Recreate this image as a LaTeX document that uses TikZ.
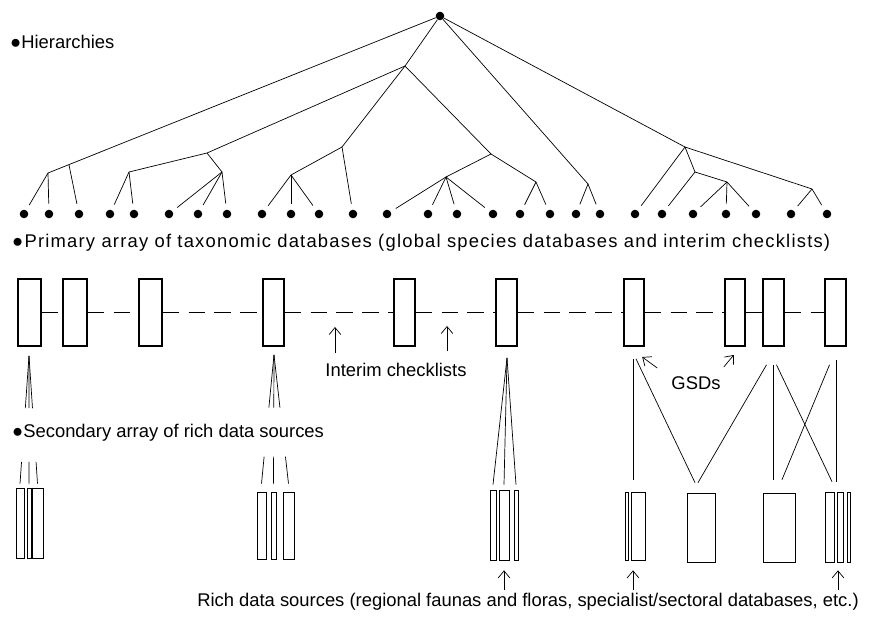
\documentclass[tikz,border=0pt]{standalone}
\usepackage{fontspec}
\setmainfont{Liberation Sans}
\usetikzlibrary{arrows.meta,calc,fit}

\begin{document}
\begin{tikzpicture}[x=0.03cm,y=-0.03cm,
  dot/.style={circle,fill,inner sep=0pt,minimum size=7.3pt},
  twig/.style={line width=0.6pt},
  leaf/.style={twig,shorten >=5pt},
  pbox/.style={draw,line width=1.4pt,inner sep=0pt},
  sbox/.style={draw,line width=0.6pt,inner sep=0pt},
  link/.style={line width=0.6pt},
  gap/.style={link,dash pattern=on 14pt off 8pt},
  ptr/.style={line width=0.6pt,-{Straight Barb[length=6pt,width=10pt]}},
  lbl/.style={font=\fontsize{15.7}{19}\selectfont,inner sep=0pt}]
  \useasboundingbox (0,0) rectangle (869,618);

  \node[lbl,anchor=west] (hier) at (10,42) {●Hierarchies};
  \node[lbl,anchor=west] (prim) at (12,243) {\addfontfeatures{LetterSpace=6.6}●Primary array of taxonomic databases (global species databases and interim checklists)};
  \node[lbl,anchor=west] (sec) at (12,433) {●Secondary array of rich data sources};

  \node[dot] (r) at (440,16) {};
  \foreach \i/\x in {1/24,2/49,3/79,4/110,5/134,6/169,7/198,8/227,9/262,10/291,11/319,12/353,
    13/387,14/428,15/457,16/493,17/520,18/550,19/576,20/600,21/635,22/662,23/693,24/726,
    25/756,26/791,27/827}
    \node[dot] (d\i) at (\x,214) {};
  \coordinate (a) at (48,173);
  \coordinate (aa) at (69,165);
  \coordinate (b) at (405,66);
  \coordinate (c) at (207,153);
  \coordinate (d) at (129,172);
  \coordinate (e) at (222,172);
  \coordinate (f) at (342,147);
  \coordinate (g) at (291,175);
  \coordinate (h) at (491,154);
  \coordinate (i) at (446,177);
  \coordinate (j) at (536,182);
  \coordinate (k) at (588,184);
  \coordinate (l) at (685,147);
  \coordinate (m) at (695,172);
  \coordinate (n) at (727,182);
  \coordinate (o) at (812,189);
  \foreach \u/\v in {r/a,r/b,b/c,c/d,c/e,b/f,f/g,b/h,h/i,h/j,r/k,r/l,l/m,m/n,l/o}
    \draw[twig] (\u) -- (\v);
  \foreach \u/\v in {a/1,a/2,aa/3,d/4,d/5,e/6,e/7,e/8,g/9,g/10,g/11,f/12,i/13,i/14,i/15,i/16,
    j/17,j/18,k/19,k/20,l/21,m/22,n/23,n/24,n/25,o/26,o/27}
    \draw[leaf] (\u) -- (d\v);

  \foreach \nm/\xa/\xb in {p1/18/41,p2/63/87,p3/139/162,p4/263/284,p5/394/415,p6/496/517,
    p7/624/644,p8/725/745,p9/763/784,p10/825/846}
    \node[pbox,fit={(\xa,279) (\xb,346)}] (\nm) {};
  \foreach \u/\v in {p1/p2,p2/p3,p3/p4,p4/p5,p5/p6,p6/p7,p7/p8,p9/p10}
    \draw[gap] (\u) -- (\v);
  \draw[link] (p8) -- (p9);

  \node[lbl] (ic) at (396,370) {Interim checklists};
  \draw[ptr] ($(ic.north)+(-61,-10)$) -- ++(0,-26);
  \draw[ptr] ($(ic.north)+(51,-12)$) -- ++(0,-25);
  \node[lbl] (gsd) at (696,383) {GSDs};
  \draw[ptr] ($(gsd.west)+(-14,-15)$) -- ++(-15,-11);
  \draw[ptr] ($(gsd.east)+(3,-16)$) -- ++(10,-12);

  \foreach \nm/\xa/\xb/\ya/\yb in {s1a/16/24/488/558,s1b/27/31/488/558,s1c/32/43/488/558,
    s2a/257/266/492/559,s2b/271/276/492/559,s2c/283/294/492/559,
    s3a/490/496/490/560,s3b/499/509/490/560,s3c/514/518/490/560,
    s4a/625/628/492/560,s4b/631/645/492/560,s4c/687/715/493/562,
    s5a/763/795/493/562,s5b/825/834/492/562,s5c/837/843/492/562,s5d/847/850/492/562}
    \node[sbox,fit={(\xa,\ya) (\xb,\yb)}] (\nm) {};

  \coordinate (u1) at ($(p1.south)+(-0.5,9)$);
  \foreach \t in {s1a,s1b,s1c} {
    \coordinate (v) at ($(\t.north)+(0,-4)$);
    \draw[link] (u1) -- ($(u1)!.41!(v)$) ($(u1)!.83!(v)$) -- (v);
  }
  \coordinate (u4) at ($(p4.south)+(0.5,8)$);
  \foreach \t in {s2a,s2b,s2c} {
    \coordinate (v) at ($(\t.north)+(0,-8)$);
    \draw[link] (u4) -- ($(u4)!.41!(v)$) ($(u4)!.79!(v)$) -- (v);
  }
  \coordinate (u6) at ($(p6.south)+(0.5,11)$);
  \foreach \t in {s3a,s3b,s3c}
    \draw[link] (u6) -- ($(\t.north)+(0,-5)$);

  \draw[link] ($(p7.south)+(-1,12)$) -- ($(s4b.north)+(-5,-12)$);
  \draw[link] ($(p7.south)+(2,12)$) -- ($(s4c.north)+(-6,-10)$);
  \draw[link] ($(p9.south)+(-7,18)$) -- ($(s4c.north)+(-3,-10)$);
  \draw[link] ($(p9.south)+(0,18)$) -- ($(s5a.north)+(-5.5,-13)$);
  \draw[link] ($(p9.south)+(3,18)$) -- ($(s5b.north)+(2.5,-10)$);
  \draw[link] ($(p10.south)+(-6,18)$) -- ($(s5a.north)+(3,-13)$);
  \draw[link] ($(p10.south)+(0.5,13)$) -- ($(s5c.north)+(-4,-10)$);

  \node[lbl] (rich) at (528,602) {Rich data sources (regional faunas and floras, specialist/sectoral databases, etc.)};
  \draw[ptr] ($(s3b.south)+(0,30)$) -- ($(s3b.south)+(0,10)$);
  \draw[ptr] ($(s4b.south)+(-5,30)$) -- ($(s4b.south)+(-5,10)$);
  \draw[ptr] ($(s5c.south)+(-2,28)$) -- ($(s5c.south)+(-2,8)$);
\end{tikzpicture}
\end{document}
